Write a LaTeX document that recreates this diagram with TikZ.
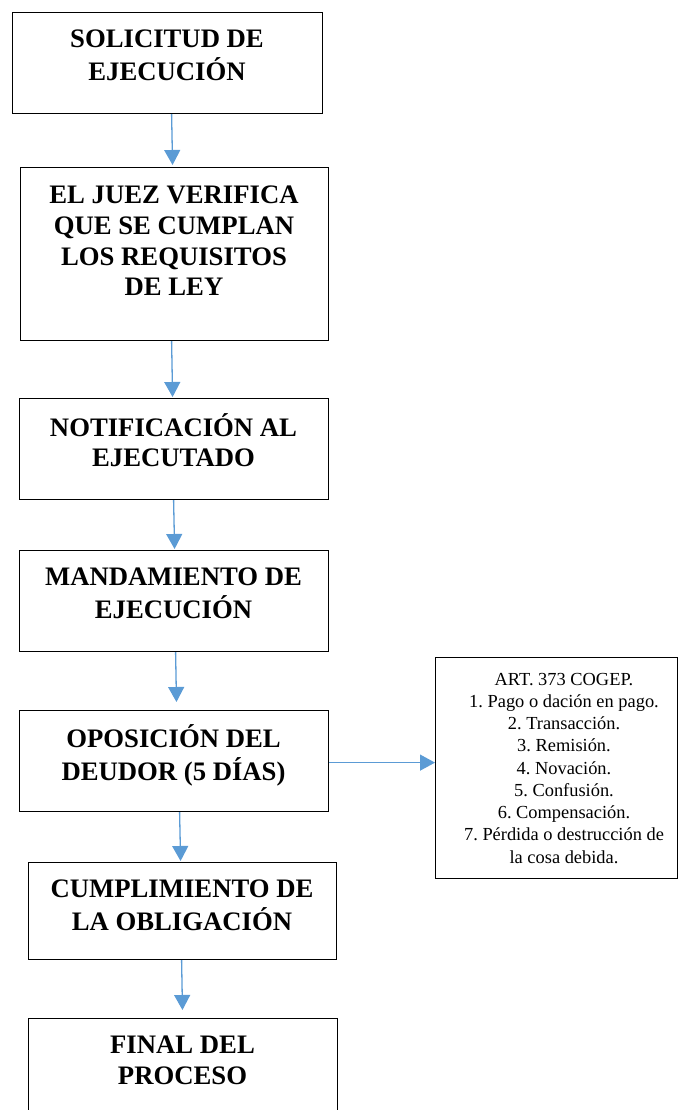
\documentclass[tikz,border=0pt]{standalone}
\usepackage{fontspec}
\setmainfont{Liberation Serif}
\usetikzlibrary{arrows.meta,calc}
\definecolor{arrblue}{HTML}{5B9BD5}
\frenchspacing
\begin{document}
\begin{tikzpicture}[x=1pt,y=-1pt,
  box/.style={draw=black, line width=1.2pt, anchor=north west, inner sep=0pt, minimum width=#1},
  box/.default=309pt,
  big/.style={anchor=north, inner sep=0pt, align=center, font=\fontsize{26.7}{30.7}\selectfont\bfseries},
  small/.style={anchor=north, inner sep=0pt, align=center, font=\fontsize{18.4}{22.25}\selectfont},
  arr/.style={draw=arrblue, line width=1.3pt, -{Triangle[width=16pt,length=15pt]}}]
\useasboundingbox (0,0) rectangle (678,1110);
% boxes
\node[box=310pt, minimum height=101pt] (b1) at (12,12) {};
\node[box=308pt, minimum height=173pt] (b2) at (20,167) {};
\node[box, minimum height=101pt] (b3) at (19,398) {};
\node[box, minimum height=101pt] (b4) at (19,550) {};
\node[box, minimum height=101pt] (b5) at (19,710) {};
\node[box=308pt, minimum height=97pt] (b6) at (28,862) {};
\node[box, minimum height=95pt] (b7) at (28,1018) {};
\node[box=242pt, minimum height=221pt] (r) at (435,657) {};
% labels
\node[big] (t1) at (167,26) {\strut SOLICITUD DE\\EJECUCIÓN};
\node[big] (t2) at (174,182) {\strut EL JUEZ VERIFICA\\QUE SE CUMPLAN\\LOS REQUISITOS\\DE LEY};
\node[big] (t3) at (173.5,413) {\strut NOTIFICACIÓN AL\\EJECUTADO};
\node[big] (t4) at (173.5,564) {\strut MANDAMIENTO DE\\EJECUCIÓN};
\node[big] (t5) at (173.5,724) {\strut OPOSICIÓN DEL\\DEUDOR (5 DÍAS)};
\node[big] (t6) at (182,876) {\strut CUMPLIMIENTO DE\\LA OBLIGACIÓN};
\node[big] (t7) at (182.5,1032) {\strut FINAL DEL\\PROCESO};
\node[small] (tr) at (564,669.4) {\strut ART. 373 COGEP.\\1. Pago o dación en pago.\\2. Transacción.\\3. Remisión.\\4. Novación.\\5. Confusión.\\6. Compensación.\\7. Pérdida o destrucción de\\la cosa debida.};
% arrows
\draw[arr, shorten >=2pt] ([xshift=4pt]b1.south) -- ([xshift=-2pt]b2.north);
\draw[arr, shorten >=1pt] ([xshift=-3pt]b2.south) -- ([xshift=-1.5pt]b3.north);
\draw[arr, shorten >=1pt] ([xshift=-0.5pt]b3.south) -- ([xshift=0.5pt]b4.north);
\draw[arr, shorten >=8pt] ([xshift=1.5pt]b4.south) -- ([xshift=2.5pt]b5.north);
\draw[arr, shorten >=1pt] ([xshift=5.5pt]b5.south) -- ([xshift=-2pt]b6.north);
\draw[arr, shorten >=8pt] ([xshift=-1pt]b6.south) -- ([xshift=-0.5pt]b7.north);
\coordinate (hs) at ([yshift=-1.5pt]b5.east);
\draw[arr] (hs) -- (hs -| r.west);
\end{tikzpicture}
\end{document}
